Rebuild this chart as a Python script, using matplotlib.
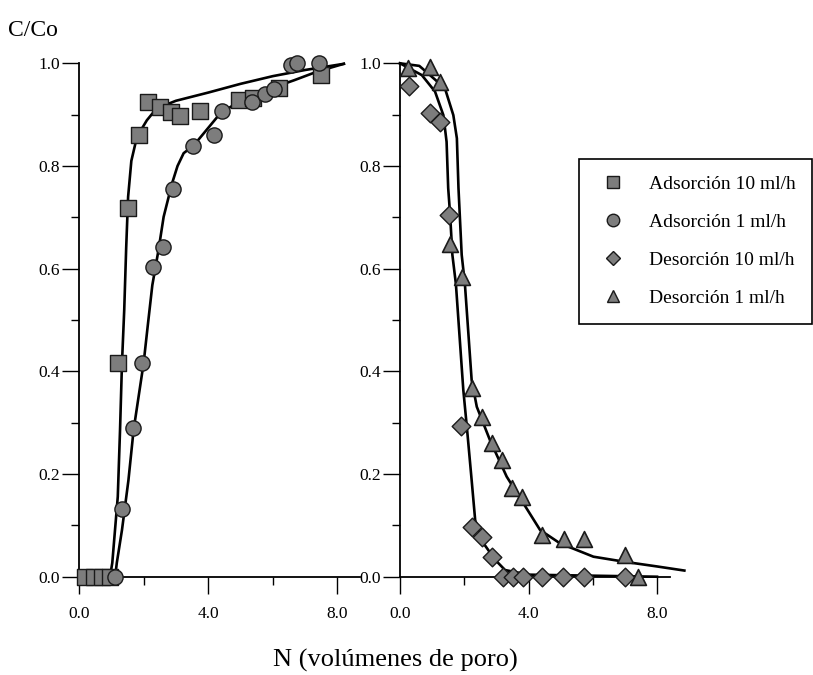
import matplotlib
matplotlib.use("Agg")
import matplotlib.pyplot as plt
from matplotlib.lines import Line2D

plt.rcParams['font.family'] = ['Liberation Serif', 'DejaVu Serif']

# --- adsorption (left panel) ---
ads10_x = [0.2, 0.45, 0.7, 0.95, 1.22, 1.53, 1.86, 2.15, 2.5, 2.85, 3.12, 3.76, 4.95, 5.4, 6.2, 7.48]
ads10_y = [0.0, 0.0, 0.0, 0.0, 0.416, 0.719, 0.860, 0.925, 0.915, 0.905, 0.897, 0.907, 0.928, 0.932, 0.952, 0.977]

ads1_x = [1.1, 1.33, 1.66, 1.95, 2.29, 2.6, 2.91, 3.53, 4.19, 4.43, 5.35, 5.75, 6.05, 6.55, 6.76, 7.43]
ads1_y = [0.0, 0.132, 0.290, 0.417, 0.604, 0.642, 0.755, 0.838, 0.860, 0.907, 0.925, 0.940, 0.950, 0.997, 1.0, 1.0]

fit_ads10_x = [0.0, 0.96, 1.03, 1.20, 1.27, 1.33, 1.40, 1.46, 1.52, 1.62, 1.75, 1.90, 2.10, 2.40, 3.0, 4.0, 5.0, 6.0, 7.0, 8.2]
fit_ads10_y = [0.0, 0.0, 0.027, 0.156, 0.286, 0.416, 0.52, 0.64, 0.74, 0.81, 0.845, 0.868, 0.889, 0.912, 0.927, 0.943, 0.960, 0.975, 0.987, 0.999]

fit_ads1_x = [0.0, 1.12, 1.17, 1.33, 1.53, 1.69, 2.0, 2.13, 2.27, 2.46, 2.62, 2.88, 3.05, 3.24, 3.55, 4.38, 5.21, 6.66, 7.38, 8.2]
fit_ads1_y = [0.0, 0.0, 0.027, 0.091, 0.188, 0.286, 0.416, 0.49, 0.568, 0.636, 0.701, 0.766, 0.800, 0.825, 0.840, 0.903, 0.935, 0.967, 0.984, 0.999]

# --- desorption (right panel) ---
des10_x = [0.28, 0.93, 1.25, 1.54, 1.89, 2.23, 2.54, 2.86, 3.22, 3.53, 3.84, 4.41, 5.06, 5.72, 7.0]
des10_y = [0.956, 0.903, 0.886, 0.705, 0.294, 0.097, 0.078, 0.039, 0.0, 0.0, 0.0, 0.0, 0.0, 0.0, 0.0]

des1_x = [0.26, 0.93, 1.25, 1.56, 1.92, 2.23, 2.54, 2.86, 3.17, 3.48, 3.79, 4.43, 5.1, 5.73, 7.0, 7.42]
des1_y = [0.99, 0.993, 0.964, 0.649, 0.584, 0.367, 0.312, 0.26, 0.227, 0.172, 0.156, 0.081, 0.074, 0.074, 0.042, 0.0]

fit_des10_x = [0.0, 0.68, 1.09, 1.35, 1.45, 1.50, 1.56, 1.63, 1.74, 1.97, 2.08, 2.23, 2.34, 2.60, 2.96, 3.27, 4.0, 6.0, 8.0]
fit_des10_y = [1.0, 0.977, 0.945, 0.899, 0.847, 0.757, 0.705, 0.627, 0.570, 0.364, 0.292, 0.188, 0.110, 0.065, 0.033, 0.013, 0.004, 0.002, 0.0]

fit_des1_x = [0.0, 0.6, 0.88, 1.40, 1.66, 1.77, 1.82, 1.92, 2.02, 2.23, 2.39, 2.80, 3.32, 3.84, 4.36, 4.98, 6.02, 7.0, 8.0, 8.85]
fit_des1_y = [1.0, 0.995, 0.98, 0.951, 0.899, 0.854, 0.757, 0.627, 0.570, 0.383, 0.331, 0.266, 0.195, 0.143, 0.091, 0.065, 0.039, 0.029, 0.020, 0.012]

labels = ['Adsorción 10 ml/h', 'Adsorción 1 ml/h', 'Desorción 10 ml/h', 'Desorción 1 ml/h']
x_ticks = [0.0, 4.0, 8.0]
y_ticks = [0.0, 0.2, 0.4, 0.6, 0.8, 1.0]

fill = '#7d7d7d'
edge = '#1a1a1a'

fig = plt.figure(figsize=(8.13, 6.75), dpi=100)
ax1 = fig.add_axes([0.0972, 0.1456, 0.3456, 0.7606])
ax2 = fig.add_axes([0.492, 0.1456, 0.332, 0.7606])


def style_axes(ax, xmax):
    ax.set_xlim(0, xmax)
    ax.set_ylim(0, 1.0)
    for s in ['top', 'right']:
        ax.spines[s].set_visible(False)
    for s in ['left', 'bottom']:
        ax.spines[s].set_linewidth(1.3)
    ax.set_xticks(x_ticks)
    ax.set_xticklabels(['%.1f' % v for v in x_ticks])
    ax.set_xticks([2.0, 6.0], minor=True)
    ax.set_yticks(y_ticks)
    ax.set_yticklabels(['%.1f' % v for v in y_ticks])
    ax.set_yticks([0.1, 0.3, 0.5, 0.7, 0.9], minor=True)
    ax.tick_params(axis='both', which='major', direction='out', length=12, width=1.0,
                   labelsize=12.5, colors='black')
    ax.tick_params(axis='both', which='minor', direction='out', length=5.5, width=1.0)
    ax.tick_params(axis='y', which='major', pad=1.5)
    ax.tick_params(axis='x', which='major', pad=9)


style_axes(ax1, 8.7)
style_axes(ax2, 8.4)

lw = 1.9
ax1.plot(fit_ads10_x, fit_ads10_y, color='black', lw=lw, clip_on=False, zorder=2)
ax1.plot(fit_ads1_x, fit_ads1_y, color='black', lw=lw, clip_on=False, zorder=2)
ax1.scatter(ads10_x, ads10_y, marker='s', s=125, c=fill, edgecolors=edge, linewidths=1.0,
            clip_on=False, zorder=3)
ax1.scatter(ads1_x, ads1_y, marker='o', s=120, c=fill, edgecolors=edge, linewidths=1.0,
            clip_on=False, zorder=3)

ax2.plot(fit_des10_x, fit_des10_y, color='black', lw=lw, clip_on=False, zorder=2)
ax2.plot(fit_des1_x, fit_des1_y, color='black', lw=lw, clip_on=False, zorder=2)
ax2.scatter(des10_x, des10_y, marker='D', s=90, c=fill, edgecolors=edge, linewidths=1.0,
            clip_on=False, zorder=3)
ax2.scatter(des1_x, des1_y, marker='^', s=130, c=fill, edgecolors=edge, linewidths=1.2,
            clip_on=False, zorder=3)

handles = [
    Line2D([], [], ls='none', marker='s', ms=9, mfc=fill, mec=edge),
    Line2D([], [], ls='none', marker='o', ms=9, mfc=fill, mec=edge),
    Line2D([], [], ls='none', marker='D', ms=7, mfc=fill, mec=edge),
    Line2D([], [], ls='none', marker='^', ms=9, mfc=fill, mec=edge),
]
leg = fig.legend(handles, labels, loc='upper left', bbox_to_anchor=(0.712, 0.7644),
                 fontsize=14, frameon=True, fancybox=False, framealpha=1,
                 edgecolor='black', borderpad=0.85, labelspacing=1.05,
                 handlelength=1.8, handletextpad=0.95, borderaxespad=0)
leg.get_frame().set_linewidth(1.2)

fig.text(8 / 813, 1 - 31 / 675, 'C/Co', fontsize=17, ha='left', va='center')
fig.text(0.486, 1 - 660 / 675, 'N (volúmenes de poro)', fontsize=19, ha='center', va='center')

fig.savefig('out.png', dpi=100)
